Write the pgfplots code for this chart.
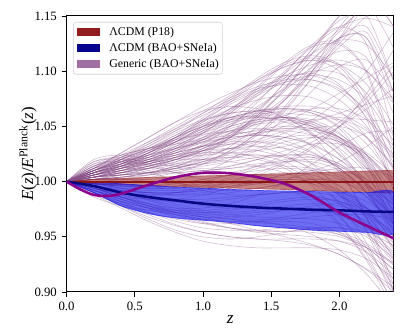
\documentclass[border=0pt]{standalone}
\usepackage{pgfplots}
\usepackage{pgfplotstable}
\pgfplotsset{compat=1.18}
\usepackage{fontspec}
\setmainfont{Liberation Serif}

\definecolor{gen}{RGB}{135,78,135}
\definecolor{genleg}{RGB}{160,110,160}
\definecolor{pred}{RGB}{150,32,32}
\definecolor{predleg}{RGB}{145,30,30}
\definecolor{redline}{RGB}{140,20,20}
\definecolor{bband}{RGB}{20,20,235}
\definecolor{navyl}{RGB}{8,8,130}
\definecolor{navyleg}{RGB}{5,5,140}
\definecolor{thickp}{RGB}{140,0,140}

\pgfplotstableread{
name z0 z1 z2 z3 z4 z5 z6 z7 z8 z9 z10 z11 z12
z   0.0 0.2 0.4 0.6 0.8 1.0 1.2 1.4 1.6 1.8 2.0 2.2 2.4
c1  1.000 1.010 1.020 1.030 1.038 1.043 1.045 1.043 1.037 1.027 1.012 0.992 0.968
c2  1.000 1.008 1.018 1.030 1.042 1.052 1.058 1.059 1.054 1.043 1.025 1.000 0.968
c3  1.000 1.012 1.022 1.032 1.044 1.055 1.062 1.064 1.060 1.050 1.034 1.012 0.985
c4  1.000 1.006 1.012 1.020 1.028 1.035 1.040 1.042 1.040 1.033 1.020 1.002 0.978
c5  1.000 1.004 1.008 1.014 1.020 1.026 1.030 1.032 1.030 1.024 1.014 0.998 0.978
c6  1.000 1.010 1.016 1.022 1.030 1.040 1.050 1.056 1.058 1.054 1.043 1.024 0.996
c7  1.000 1.014 1.024 1.030 1.034 1.038 1.042 1.046 1.048 1.046 1.038 1.022 0.996
c8  1.000 1.002 1.006 1.012 1.020 1.028 1.034 1.036 1.034 1.026 1.012 0.990 0.960
c9  1.000 1.008 1.014 1.022 1.032 1.044 1.054 1.062 1.066 1.064 1.054 1.034 1.002
c10 1.000 1.006 1.010 1.016 1.024 1.033 1.041 1.047 1.050 1.048 1.040 1.024 0.998
c11 1.000 1.008 1.016 1.026 1.038 1.052 1.066 1.080 1.092 1.100 1.098 1.080 1.040
c12 1.000 1.006 1.012 1.020 1.030 1.044 1.060 1.078 1.098 1.116 1.128 1.124 1.094
c13 1.000 1.010 1.018 1.026 1.036 1.048 1.062 1.080 1.100 1.122 1.140 1.148 1.140
c14 1.000 1.004 1.010 1.018 1.028 1.040 1.056 1.074 1.094 1.116 1.138 1.160 1.180
c15 1.000 1.012 1.024 1.036 1.048 1.060 1.072 1.084 1.096 1.106 1.110 1.100 1.070
c16 1.000 1.008 1.014 1.020 1.028 1.038 1.050 1.066 1.086 1.110 1.136 1.162 1.185
c17 1.000 1.006 1.012 1.018 1.024 1.032 1.042 1.056 1.074 1.098 1.125 1.150 1.160
c18 1.000 1.010 1.020 1.032 1.046 1.062 1.078 1.092 1.104 1.110 1.106 1.088 1.050
c19 1.000 1.004 1.008 1.014 1.022 1.032 1.044 1.058 1.076 1.100 1.130 1.170 1.220
c20 1.000 1.008 1.016 1.026 1.040 1.056 1.070 1.082 1.090 1.092 1.084 1.064 1.028
c21 1.000 1.006 1.010 1.014 1.020 1.028 1.040 1.058 1.084 1.116 1.150 1.170 1.140
c22 1.000 1.004 1.006 1.008 1.012 1.018 1.028 1.044 1.068 1.100 1.140 1.160 1.120
c23 1.000 1.008 1.012 1.016 1.022 1.030 1.040 1.054 1.074 1.100 1.130 1.140 1.090
c24 1.000 1.002 1.002 1.004 1.008 1.016 1.028 1.044 1.066 1.094 1.122 1.135 1.080
c25 1.000 0.992 0.984 0.976 0.968 0.962 0.958 0.956 0.955 0.954 0.950 0.940 0.920
c26 1.000 0.994 0.986 0.978 0.970 0.963 0.958 0.954 0.952 0.950 0.946 0.936 0.915
c27 1.000 0.990 0.980 0.970 0.961 0.954 0.950 0.948 0.946 0.942 0.934 0.920 0.900
c28 1.000 0.996 0.990 0.983 0.976 0.970 0.966 0.963 0.961 0.958 0.952 0.940 0.920
c29 1.000 0.992 0.982 0.972 0.964 0.958 0.956 0.956 0.958 0.958 0.954 0.944 0.925
c30 1.000 0.988 0.976 0.964 0.954 0.946 0.942 0.940 0.940 0.940 0.938 0.930 0.912
c31 1.000 0.994 0.988 0.980 0.972 0.964 0.958 0.955 0.955 0.957 0.958 0.954 0.942
c32 1.000 0.996 0.992 0.986 0.980 0.974 0.970 0.968 0.967 0.966 0.962 0.952 0.935
c33 1.000 0.990 0.978 0.966 0.956 0.950 0.948 0.950 0.954 0.958 0.958 0.950 0.930
c34 1.000 0.992 0.986 0.980 0.974 0.968 0.962 0.956 0.950 0.943 0.934 0.921 0.904
c35 1.000 1.016 1.018 1.010 1.000 0.992 0.988 0.988 0.990 0.992 0.990 0.982 0.965
c36 1.000 1.014 1.020 1.018 1.014 1.012 1.014 1.020 1.028 1.034 1.034 1.024 1.000
c37 1.000 1.018 1.022 1.016 1.008 1.002 1.000 1.002 1.006 1.010 1.010 1.002 0.982
c38 1.000 1.012 1.014 1.008 1.000 0.994 0.992 0.994 0.998 1.002 1.000 0.990 0.968
c39 1.000 1.002 1.004 1.006 1.008 1.010 1.012 1.014 1.014 1.012 1.006 0.994 0.975
c40 1.000 0.998 0.996 0.996 0.998 1.002 1.006 1.010 1.012 1.010 1.002 0.986 0.960
c41 1.000 1.000 1.002 1.006 1.012 1.018 1.022 1.024 1.022 1.016 1.004 0.986 0.962
c42 1.000 0.996 0.990 0.986 0.984 0.984 0.986 0.988 0.990 0.990 0.986 0.976 0.958
c43 1.000 0.998 0.994 0.990 0.988 0.988 0.990 0.994 0.998 1.002 1.002 0.996 0.980
c44 1.000 1.004 1.006 1.008 1.012 1.018 1.026 1.034 1.040 1.042 1.036 1.020 0.990
c45 1.000 0.994 0.990 0.988 0.990 0.996 1.004 1.012 1.018 1.020 1.014 0.998 0.970
c46 1.000 1.006 1.012 1.018 1.024 1.028 1.030 1.028 1.022 1.012 0.996 0.974 0.946
c47 1.000 1.002 1.002 1.000 0.998 0.996 0.996 0.998 1.002 1.008 1.012 1.012 1.004
c48 1.000 0.996 0.992 0.990 0.990 0.992 0.996 1.000 1.002 1.000 0.992 0.976 0.950
c49 1.000 1.004 1.010 1.018 1.026 1.032 1.034 1.032 1.024 1.010 0.988 0.956 0.910
c50 1.000 1.008 1.016 1.024 1.032 1.040 1.046 1.048 1.044 1.032 1.008 0.968 0.905
c51 1.000 1.002 1.004 1.008 1.014 1.020 1.024 1.024 1.018 1.004 0.980 0.944 0.895
c52 1.000 0.998 0.996 0.996 0.998 1.002 1.006 1.006 1.000 0.986 0.962 0.930 0.890
c53 1.000 1.006 1.014 1.024 1.036 1.048 1.058 1.062 1.058 1.042 1.012 0.966 0.900
c54 1.000 1.010 1.020 1.030 1.040 1.050 1.058 1.064 1.066 1.062 1.048 1.016 0.960
c55 1.000 1.004 1.006 1.008 1.012 1.020 1.032 1.050 1.074 1.104 1.130 1.130 1.080
c56 1.000 0.998 0.996 0.996 1.000 1.008 1.020 1.036 1.058 1.082 1.104 1.110 1.080
c57 1.000 1.002 1.006 1.012 1.020 1.028 1.036 1.044 1.054 1.066 1.080 1.094 1.108
c58 1.000 1.010 1.022 1.034 1.046 1.056 1.062 1.064 1.062 1.060 1.058 1.056 1.054
c59 1.000 1.006 1.010 1.012 1.012 1.010 1.008 1.006 1.006 1.010 1.018 1.032 1.050
c60 1.000 0.994 0.986 0.980 0.976 0.976 0.980 0.988 1.000 1.016 1.032 1.044 1.046
c61 1.000 1.012 1.026 1.040 1.054 1.064 1.068 1.066 1.058 1.044 1.024 0.998 0.966
c62 1.000 1.008 1.018 1.028 1.040 1.050 1.058 1.064 1.066 1.064 1.056 1.040 1.014
c63 1.000 1.006 1.016 1.028 1.040 1.050 1.056 1.058 1.056 1.050 1.040 1.026 1.006
c64 1.000 1.010 1.018 1.024 1.030 1.036 1.044 1.052 1.060 1.066 1.066 1.056 1.032
c65 1.000 1.004 1.012 1.022 1.034 1.046 1.056 1.064 1.068 1.068 1.062 1.048 1.024
c66 1.000 0.996 0.990 0.984 0.978 0.972 0.968 0.966 0.966 0.968 0.970 0.970 0.966
c67 1.000 0.990 0.982 0.976 0.972 0.970 0.970 0.972 0.974 0.974 0.970 0.958 0.936
c68 1.000 0.994 0.986 0.978 0.972 0.968 0.968 0.970 0.974 0.978 0.980 0.976 0.962
c69 1.000 1.002 1.008 1.016 1.026 1.038 1.052 1.068 1.084 1.098 1.106 1.100 1.074
c70 1.000 1.008 1.020 1.034 1.048 1.062 1.074 1.084 1.088 1.086 1.074 1.050 1.010
c71 1.000 1.006 1.014 1.024 1.036 1.050 1.064 1.078 1.090 1.096 1.092 1.074 1.036
c72 1.000 0.992 0.986 0.984 0.984 0.988 0.994 1.000 1.006 1.008 1.004 0.990 0.966
c73 1.000 0.998 0.994 0.988 0.982 0.978 0.976 0.976 0.978 0.980 0.978 0.970 0.950
c74 1.000 1.004 1.010 1.016 1.022 1.026 1.026 1.022 1.014 1.002 0.988 0.972 0.954
c75 1.000 1.010 1.016 1.020 1.024 1.028 1.034 1.042 1.050 1.056 1.056 1.046 1.020
c76 1.000 1.002 1.004 1.008 1.014 1.022 1.030 1.038 1.046 1.054 1.062 1.070 1.078
c77 1.000 0.996 0.994 0.994 0.996 1.000 1.006 1.014 1.024 1.036 1.050 1.066 1.085
c78 1.000 1.006 1.014 1.026 1.040 1.054 1.066 1.074 1.078 1.076 1.064 1.040 1.000
c79 1.000 0.990 0.980 0.972 0.966 0.962 0.962 0.964 0.968 0.972 0.972 0.964 0.944
c80 1.000 1.008 1.014 1.018 1.020 1.020 1.018 1.014 1.008 0.998 0.982 0.960 0.928
c81 1.000 1.012 1.020 1.028 1.038 1.048 1.056 1.060 1.058 1.048 1.028 0.995 0.948
c82 1.000 1.010 1.016 1.022 1.030 1.038 1.046 1.052 1.054 1.050 1.036 1.008 0.960
c83 1.000 1.014 1.022 1.028 1.034 1.042 1.050 1.056 1.058 1.054 1.040 1.014 0.972
c84 1.000 1.008 1.012 1.016 1.022 1.030 1.038 1.044 1.046 1.042 1.030 1.006 0.966
c85 1.000 1.016 1.024 1.030 1.036 1.044 1.052 1.060 1.064 1.062 1.050 1.024 0.980
c86 1.000 1.006 1.012 1.018 1.026 1.036 1.046 1.054 1.058 1.056 1.044 1.018 0.972
c87 1.000 1.010 1.018 1.024 1.030 1.036 1.040 1.042 1.040 1.034 1.020 0.996 0.956
c88 1.000 1.004 1.010 1.018 1.028 1.038 1.048 1.054 1.056 1.052 1.040 1.016 0.978
c89 1.000 1.012 1.018 1.022 1.026 1.032 1.038 1.044 1.048 1.048 1.040 1.020 0.982
c90 1.000 1.008 1.016 1.026 1.036 1.046 1.054 1.058 1.058 1.052 1.038 1.012 0.970
c91 1.000 0.996 0.992 0.990 0.990 0.992 0.996 1.000 1.002 1.000 0.990 0.970 0.938
c92 1.000 1.000 0.998 0.996 0.996 0.998 1.002 1.006 1.008 1.006 0.996 0.976 0.944
c93 1.000 0.994 0.988 0.984 0.982 0.982 0.984 0.988 0.990 0.988 0.980 0.962 0.932
c94 1.000 0.992 0.984 0.978 0.974 0.972 0.972 0.974 0.976 0.976 0.970 0.954 0.926
c95 1.000 0.998 0.994 0.992 0.992 0.994 0.998 1.002 1.004 1.002 0.992 0.972 0.940
c96 1.000 1.004 1.006 1.008 1.010 1.014 1.018 1.022 1.024 1.022 1.012 0.990 0.954
c97 1.000 1.002 1.002 1.002 1.004 1.008 1.014 1.020 1.024 1.024 1.016 0.996 0.962
c98 1.000 0.990 0.982 0.976 0.974 0.974 0.976 0.980 0.984 0.986 0.982 0.968 0.940
c99 1.000 0.994 0.990 0.988 0.988 0.990 0.994 0.998 1.000 0.998 0.988 0.966 0.930
c100 1.000 1.006 1.008 1.008 1.008 1.010 1.012 1.016 1.018 1.018 1.010 0.990 0.955
c101 1.000 1.006 1.012 1.020 1.030 1.044 1.062 1.084 1.106 1.122 1.124 1.098 1.020
c102 1.000 1.004 1.008 1.014 1.022 1.034 1.050 1.072 1.098 1.124 1.140 1.124 1.040
c103 1.000 1.008 1.014 1.022 1.032 1.046 1.064 1.086 1.108 1.124 1.126 1.100 1.030
c104 1.000 1.002 1.004 1.008 1.014 1.024 1.040 1.062 1.090 1.120 1.146 1.150 1.090
c105 1.000 1.010 1.018 1.028 1.040 1.056 1.074 1.092 1.106 1.112 1.104 1.070 0.996
c106 1.000 1.006 1.010 1.014 1.020 1.030 1.044 1.064 1.090 1.120 1.150 1.168 1.140
c107 1.000 1.004 1.006 1.010 1.016 1.026 1.040 1.060 1.084 1.110 1.130 1.130 1.070
c108 1.000 1.008 1.016 1.026 1.038 1.054 1.072 1.090 1.104 1.110 1.100 1.066 0.990
c109 1.000 1.002 1.004 1.006 1.010 1.016 1.026 1.042 1.064 1.094 1.128 1.160 1.180
c110 1.000 1.004 1.008 1.012 1.018 1.028 1.042 1.060 1.082 1.104 1.118 1.112 1.060
c111 1.000 1.010 1.020 1.030 1.042 1.058 1.076 1.094 1.108 1.114 1.106 1.076 1.010
c112 1.000 1.006 1.014 1.024 1.036 1.050 1.066 1.082 1.094 1.098 1.088 1.056 0.990
c113 1.000 0.998 0.996 0.994 0.994 0.996 0.998 0.998 0.994 0.982 0.960 0.928 0.884
c114 1.000 1.004 1.008 1.012 1.016 1.020 1.022 1.020 1.012 0.996 0.970 0.934 0.888
c115 1.000 0.994 0.986 0.978 0.972 0.968 0.966 0.964 0.960 0.952 0.938 0.916 0.886
c116 1.000 1.000 0.998 0.996 0.996 0.998 1.000 1.000 0.996 0.986 0.968 0.940 0.900
c117 1.000 1.008 1.014 1.020 1.026 1.032 1.036 1.036 1.030 1.016 0.992 0.954 0.900
c118 1.000 0.992 0.984 0.976 0.970 0.966 0.964 0.964 0.964 0.962 0.954 0.936 0.906
c119 1.000 0.998 0.996 0.994 0.994 0.996 1.000 1.006 1.016 1.030 1.050 1.080 1.120
c120 1.000 1.004 1.008 1.012 1.018 1.024 1.030 1.036 1.044 1.056 1.074 1.100 1.136
c121 1.000 0.996 0.992 0.990 0.990 0.994 1.000 1.008 1.018 1.032 1.050 1.072 1.100
c122 1.000 1.008 1.014 1.018 1.022 1.024 1.026 1.028 1.032 1.040 1.054 1.076 1.106
c123 1.000 1.020 1.024 1.020 1.016 1.016 1.020 1.028 1.036 1.040 1.036 1.018 0.984
c124 1.000 1.018 1.020 1.014 1.008 1.006 1.008 1.014 1.020 1.022 1.016 0.998 0.964
c125 1.000 1.014 1.018 1.016 1.014 1.016 1.022 1.030 1.040 1.048 1.050 1.040 1.012
c126 1.000 0.986 0.978 0.974 0.972 0.972 0.974 0.978 0.982 0.984 0.982 0.972 0.952
c127 1.000 0.988 0.980 0.974 0.970 0.966 0.962 0.960 0.958 0.956 0.952 0.942 0.924
c128 1.000 0.990 0.978 0.968 0.960 0.954 0.950 0.948 0.948 0.948 0.946 0.940 0.926
c129 1.000 1.012 1.026 1.040 1.054 1.068 1.080 1.090 1.096 1.096 1.086 1.062 1.020
c130 1.000 1.010 1.022 1.036 1.050 1.064 1.076 1.086 1.092 1.092 1.082 1.058 1.016
}\raw
\pgfplotstabletranspose[colnames from=name]\curves\raw

\begin{document}
\begin{tikzpicture}
\begin{axis}[
  scale only axis,
  width=245.6bp, height=207bp,
  xmin=0, xmax=2.4, ymin=0.9, ymax=1.15,
  axis line style={black, line width=0.75bp},
  tick align=outside,
  xtick pos=bottom, ytick pos=left,
  major tick length=3.75bp,
  tick style={black, line width=0.6bp},
  xtick={0,0.5,1,1.5,2},
  ytick={0.9,0.95,1.0,1.05,1.1,1.15},
  /pgf/number format/assume math mode=true,
  ticklabel style={font=\fontsize{9.6}{11}\selectfont},
  xticklabel style={/pgf/number format/.cd, fixed, fixed zerofill, precision=1},
  yticklabel style={/pgf/number format/.cd, fixed, fixed zerofill, precision=2},
  xlabel={\textit{z}},
  ylabel={\textit{E}(\textit{z})/\textit{E}\textsuperscript{Planck}(\textit{z})},
  xlabel style={at={(axis description cs:0.5,0)}, anchor=center, yshift=-21bp, font=\fontsize{13}{15}\selectfont},
  ylabel style={at={(axis description cs:0,0.5)}, anchor=center, yshift=29bp, font=\fontsize{12.7}{15}\selectfont},
  legend cell align=left,
  legend image code/.code={\fill[#1, draw=none, fill opacity=1, sharp corners] (0bp,-3bp) rectangle (17.5bp,3bp);},
  legend style={at={(0,1)}, anchor=north west, xshift=4.9bp, yshift=-4.5bp,
    font=\fontsize{8.9}{10.5}\selectfont, draw=black!18, rounded corners=2bp,
    fill=white, fill opacity=0.8, text opacity=1, inner xsep=2.8bp, inner ysep=3bp,
    nodes={inner sep=0pt, text height=7bp, text depth=2bp},
    row sep=3bp,
    /tikz/every odd column/.append style={column sep=6.7bp}},
]
\addlegendimage{fill=predleg}
\addlegendentry{ΛCDM (P18)}
\addlegendimage{fill=navyleg}
\addlegendentry{ΛCDM (BAO+SNeIa)}
\addlegendimage{fill=genleg}
\addlegendentry{Generic (BAO+SNeIa)}

\pgfplotsinvokeforeach{1,...,130}{
  \addplot[forget plot, smooth, gen, opacity=0.36, line width=0.45bp] table[x=z, y=c#1] {\curves};
}

% P18 band
\addplot[forget plot, fill=pred, fill opacity=0.55, draw=pred, draw opacity=0.6, line width=0.5bp] coordinates {
(0,1.0) (0.2,1.002) (0.4,1.003) (0.8,1.0045) (1.2,1.0058) (1.6,1.0072) (2.0,1.0088) (2.4,1.0103)
(2.4,0.9895) (2.0,0.9912) (1.6,0.9928) (1.2,0.9942) (0.8,0.9955) (0.4,0.997) (0.2,0.998) (0,1.0)} -- cycle;

% BAO+SNeIa band
\addplot[forget plot, smooth, fill=bband, fill opacity=0.62, draw=bband, draw opacity=0.7, line width=0.5bp] coordinates {
(0,1.0) (0.2,0.9995) (0.4,0.998) (0.6,0.9965) (0.8,0.995) (1.0,0.994) (1.2,0.993) (1.4,0.992) (1.6,0.9915) (1.8,0.991) (2.0,0.9905) (2.2,0.990) (2.4,0.990)
(2.4,0.9535) (2.2,0.954) (2.0,0.955) (1.8,0.956) (1.6,0.958) (1.4,0.960) (1.2,0.963) (1.0,0.965) (0.8,0.967) (0.6,0.971) (0.4,0.978) (0.2,0.990) (0,1.0)} -- cycle;

\addplot[forget plot, redline, line width=1.6bp] coordinates {(0,1.0) (2.4,1.0)};

\addplot[forget plot, smooth, navyl, line width=1.9bp] coordinates {
(0,1.0) (0.2,0.996) (0.4,0.990) (0.6,0.986) (0.8,0.983) (1.0,0.980) (1.2,0.978) (1.4,0.9765) (1.6,0.9755) (1.8,0.9745) (2.0,0.974) (2.2,0.973) (2.4,0.9725)};

\addplot[forget plot, smooth, thickp, line width=1.9bp] coordinates {
(0,1.0) (0.1,0.993) (0.2,0.988) (0.3,0.987) (0.4,0.989) (0.6,0.997) (0.8,1.004) (1.0,1.008) (1.2,1.0075) (1.4,1.004) (1.6,0.998) (1.8,0.987) (2.0,0.972) (2.2,0.960) (2.4,0.9485)};
\end{axis}
\pgfresetboundingbox
\path ([xshift=-49.9bp,yshift=-30bp]current axis.south west) rectangle ([xshift=15.75bp,yshift=12bp]current axis.north east);
\end{tikzpicture}
\end{document}
